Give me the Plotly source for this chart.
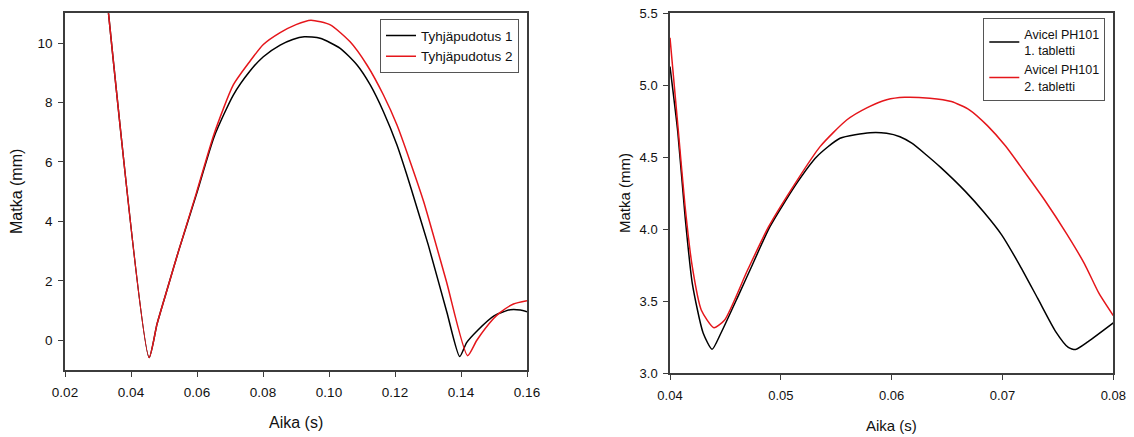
import plotly.graph_objects as go

# --- Free-fall runs (left panel) ---
t_drop1 = [0.0320, 0.0455, 0.0479, 0.0512, 0.0544, 0.0598, 0.0652, 0.0710, 0.0760,
           0.0801, 0.0852, 0.0890, 0.0925, 0.0973, 0.1034, 0.1085, 0.1125, 0.1165,
           0.1206, 0.1236, 0.1261, 0.1301, 0.1357, 0.1396, 0.1417, 0.1450, 0.1500,
           0.1549, 0.1580, 0.1600]
y_drop1 = [12.30, -0.58, 0.55, 1.80, 3.00, 4.90, 6.85, 8.25, 9.05,
           9.54, 9.93, 10.12, 10.21, 10.16, 9.82, 9.26, 8.59, 7.69,
           6.57, 5.56, 4.66, 3.20, 0.95, -0.55, -0.08, 0.33, 0.82,
           1.03, 1.02, 0.96]

t_drop2 = [0.0320, 0.0455, 0.0479, 0.0512, 0.0544, 0.0598, 0.0652, 0.0710, 0.0760,
           0.0801, 0.0852, 0.0900, 0.0945, 0.1004, 0.1064, 0.1115, 0.1165, 0.1206,
           0.1246, 0.1287, 0.1355, 0.1420, 0.1448, 0.1498, 0.1518, 0.1559, 0.1600]
y_drop2 = [12.30, -0.58, 0.55, 1.80, 3.00, 4.95, 6.95, 8.59, 9.38,
           9.95, 10.35, 10.62, 10.77, 10.61, 10.04, 9.26, 8.25, 7.24,
           6.01, 4.66, 2.01, -0.52, 0.00, 0.72, 0.93, 1.22, 1.33]

# --- Avicel PH101 tablets (right panel) ---
t_tab1 = [0.04000, 0.04071, 0.04136, 0.04201, 0.04299, 0.04380, 0.04460, 0.04623,
          0.04722, 0.04902, 0.05143, 0.05324, 0.05534, 0.05805, 0.05955, 0.06075,
          0.06182, 0.06300, 0.06442, 0.06669, 0.06831, 0.06994, 0.07156, 0.07318,
          0.07480, 0.07594, 0.07659, 0.07773, 0.08000]
y_tab1 = [5.13, 4.67, 4.09, 3.625, 3.28, 3.167, 3.28, 3.55,
          3.717, 4.018, 4.319, 4.504, 4.632, 4.671, 4.667, 4.643,
          4.598, 4.525, 4.43, 4.26, 4.12, 3.96, 3.75, 3.52,
          3.29, 3.18, 3.165, 3.22, 3.35]

t_tab2 = [0.04000, 0.04071, 0.04136, 0.04201, 0.04282, 0.04396, 0.04493, 0.04700,
          0.04890, 0.05143, 0.05354, 0.05594, 0.05780, 0.05955, 0.06117, 0.06344,
          0.06539, 0.06701, 0.06864, 0.07026, 0.07188, 0.07383, 0.07578, 0.07740,
          0.07870, 0.08000]
y_tab2 = [5.33, 4.72, 4.16, 3.74, 3.44, 3.317, 3.37, 3.717,
          4.018, 4.335, 4.574, 4.759, 4.845, 4.900, 4.917, 4.91,
          4.887, 4.83, 4.72, 4.58, 4.41, 4.20, 3.97, 3.76,
          3.556, 3.40]

names_left = ["Tyhjäpudotus 1", "Tyhjäpudotus 2"]
names_right = ["Avicel PH101<br>1. tabletti", "Avicel PH101<br>2. tabletti"]

x_ticks_left = [0.02, 0.04, 0.06, 0.08, 0.10, 0.12, 0.14, 0.16]
x_ticktext_left = ["0.02", "0.04", "0.06", "0.08", "0.10", "0.12", "0.14", "0.16"]
y_ticks_left = [0, 2, 4, 6, 8, 10]
x_ticks_right = [0.04, 0.05, 0.06, 0.07, 0.08]
y_ticks_right = [3.0, 3.5, 4.0, 4.5, 5.0, 5.5]
y_ticktext_right = ["3.0", "3.5", "4.0", "4.5", "5.0", "5.5"]

FONT = "Liberation Sans, Arial, sans-serif"
BLACK = "#000000"
RED = "#e5161b"
FRAME = "#3c3c3c"
TEXT = "#111111"
W, H = 1134, 437

fig = go.Figure()
line_kw = dict(shape="spline", smoothing=0.6, width=1.5)

fig.add_trace(go.Scatter(x=t_drop1, y=y_drop1, name=names_left[0], mode="lines",
                         line=dict(color=BLACK, **line_kw), xaxis="x", yaxis="y",
                         legend="legend"))
fig.add_trace(go.Scatter(x=t_drop2, y=y_drop2, name=names_left[1], mode="lines",
                         line=dict(color=RED, **line_kw), xaxis="x", yaxis="y",
                         legend="legend"))
fig.add_trace(go.Scatter(x=t_tab1, y=y_tab1, name=names_right[0], mode="lines",
                         line=dict(color=BLACK, **line_kw), xaxis="x2", yaxis="y2",
                         legend="legend2"))
fig.add_trace(go.Scatter(x=t_tab2, y=y_tab2, name=names_right[1], mode="lines",
                         line=dict(color=RED, **line_kw), xaxis="x2", yaxis="y2",
                         legend="legend2"))

def px_x(p):
    return p / W

def px_y(p):
    return 1 - p / H

axis_common = dict(showgrid=False, zeroline=False, showline=True, linecolor=FRAME,
                   linewidth=1.5, mirror=True, ticks="outside", ticklen=5,
                   tickwidth=1.2, tickcolor=FRAME, fixedrange=True,
                   automargin=False, color=TEXT)

fig.update_layout(
    template="none",
    width=W, height=H,
    margin=dict(l=0, r=0, t=0, b=0, pad=0),
    paper_bgcolor="white", plot_bgcolor="white",
    font=dict(family=FONT, color=TEXT),
    showlegend=True,
    xaxis=dict(domain=[px_x(65), px_x(527)], range=[0.02, 0.16],
               tickvals=x_ticks_left, ticktext=x_ticktext_left,
               tickfont=dict(size=13.5), ticklabelstandoff=4, anchor="y",
               **axis_common),
    yaxis=dict(domain=[px_y(370), px_y(13.3)], range=[-1, 11],
               tickvals=y_ticks_left, tickfont=dict(size=13.5), anchor="x",
               ticklabelstandoff=3, **axis_common),
    xaxis2=dict(domain=[px_x(670), px_x(1113.3)], range=[0.04, 0.08],
                tickvals=x_ticks_right, tickfont=dict(size=13), anchor="y2",
                ticklabelstandoff=4, **axis_common),
    yaxis2=dict(domain=[px_y(373.3), px_y(13.3)], range=[3.0, 5.5],
                tickvals=y_ticks_right, ticktext=y_ticktext_right,
                tickfont=dict(size=13), anchor="x2", ticklabelstandoff=3,
                **axis_common),
    legend=dict(x=px_x(380), y=px_y(19.3), xanchor="left", yanchor="top",
                bordercolor="#555555", borderwidth=1, bgcolor="white",
                font=dict(size=13.5), itemwidth=30, tracegroupgap=0),
    legend2=dict(x=px_x(983.3), y=px_y(18.3), xanchor="left", yanchor="top",
                 bordercolor="#555555", borderwidth=1, bgcolor="white",
                 font=dict(size=12.5), itemwidth=30, tracegroupgap=2),
)

# Axis titles
titles = [
    ("Aika (s)", px_x(296), px_y(422.5), 0, 16),
    ("Matka (mm)", px_x(17), px_y(192), -90, 16),
    ("Aika (s)", px_x(891.7), px_y(425), 0, 15),
    ("Matka (mm)", px_x(624), px_y(193), -90, 15),
]
for text, x, y, ang, size in titles:
    fig.add_annotation(text=text, x=x, y=y, xref="paper", yref="paper",
                       xanchor="center", yanchor="middle", textangle=ang,
                       showarrow=False, font=dict(size=size, family=FONT, color=TEXT))

fig.write_html("out.html")
